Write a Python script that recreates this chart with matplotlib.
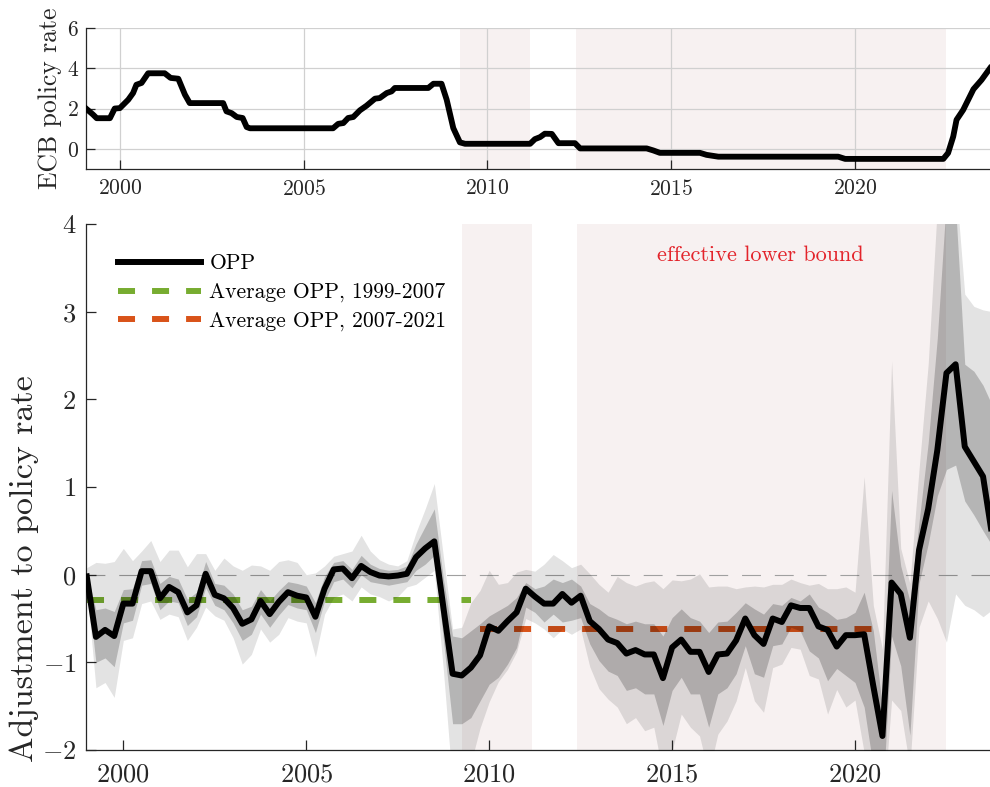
import numpy as np
import matplotlib.pyplot as plt

plt.rcParams['font.family'] = 'serif'
plt.rcParams['font.serif'] = ['cmr10']
plt.rcParams['mathtext.fontset'] = 'cm'
plt.rcParams['axes.formatter.use_mathtext'] = True
plt.rcParams['axes.unicode_minus'] = True

# ECB deposit facility rate (vertices of the monthly path)
ecb_dates = [1999.08, 1999.27, 1999.37, 1999.73, 1999.86, 2000.00, 2000.23, 2000.36, 2000.45,
             2000.59, 2000.77, 2001.22, 2001.38, 2001.59, 2001.77, 2001.90, 2002.81, 2002.90,
             2003.04, 2003.18, 2003.34, 2003.45, 2003.54, 2005.80, 2005.94, 2006.08, 2006.21,
             2006.35, 2006.53, 2006.71, 2006.94, 2007.07, 2007.26, 2007.39, 2007.48, 2008.39,
             2008.53, 2008.75, 2008.89, 2009.07, 2009.25, 2009.39, 2011.16, 2011.29, 2011.43,
             2011.56, 2011.75, 2011.93, 2012.38, 2012.52, 2014.33, 2014.51, 2014.69, 2015.78,
             2015.96, 2016.28, 2019.54, 2019.73, 2022.40, 2022.53, 2022.67, 2022.76, 2022.94,
             2023.22, 2023.44, 2023.67]
ecb_rate = [2.00, 1.70, 1.52, 1.52, 2.00, 2.02, 2.44, 2.77, 3.18,
            3.27, 3.75, 3.75, 3.52, 3.48, 2.69, 2.27, 2.27, 1.86,
            1.77, 1.58, 1.53, 1.08, 1.02, 1.02, 1.24, 1.28, 1.53,
            1.58, 1.91, 2.14, 2.49, 2.52, 2.77, 2.85, 3.02, 3.02,
            3.23, 3.23, 2.44, 1.03, 0.32, 0.25, 0.25, 0.48, 0.58,
            0.75, 0.74, 0.28, 0.28, 0.02, 0.02, -0.08, -0.20, -0.20,
            -0.30, -0.39, -0.39, -0.50, -0.50, -0.21, 0.61, 1.44, 1.93,
            2.96, 3.42, 4.00]

# quarterly OPP estimate, 1999Q1 - 2023Q4
quarters = 1999 + np.arange(100) / 4
opp = [-0.02, -0.71, -0.63, -0.70, -0.33, -0.33, 0.04, 0.04, -0.27, -0.14,
       -0.20, -0.43, -0.35, 0.01, -0.23, -0.27, -0.38, -0.56, -0.51, -0.30,
       -0.45, -0.31, -0.20, -0.24, -0.26, -0.48, -0.16, 0.06, 0.07, -0.04,
       0.10, 0.03, -0.01, -0.02, -0.01, 0.01, 0.20, 0.30, 0.38, -0.38,
       -1.13, -1.15, -1.06, -0.92, -0.59, -0.64, -0.53, -0.43, -0.16, -0.25,
       -0.33, -0.33, -0.22, -0.32, -0.24, -0.53, -0.62, -0.74, -0.78, -0.90,
       -0.86, -0.91, -0.91, -1.18, -0.83, -0.74, -0.88, -0.88, -1.11, -0.91,
       -0.90, -0.75, -0.50, -0.69, -0.79, -0.50, -0.54, -0.35, -0.38, -0.38,
       -0.59, -0.63, -0.82, -0.69, -0.69, -0.68, -1.27, -1.84, -0.09, -0.22,
       -0.72, 0.28, 0.75, 1.42, 2.30, 2.40, 1.46, 1.29, 1.12, 0.44]
# inner band
opp_lo68 = [-0.08, -1.00, -0.95, -1.05, -0.55, -0.52, -0.12, -0.10, -0.40, -0.30,
            -0.32, -0.58, -0.48, -0.15, -0.35, -0.40, -0.55, -0.75, -0.68, -0.45,
            -0.60, -0.46, -0.34, -0.38, -0.40, -0.66, -0.30, -0.08, -0.05, -0.15,
            0.00, -0.08, -0.10, -0.12, -0.10, -0.08, 0.05, 0.12, 0.22, -0.75,
            -1.70, -1.70, -1.63, -1.44, -1.25, -1.17, -1.02, -0.83, -0.37, -0.43,
            -0.54, -0.45, -0.54, -0.52, -0.49, -0.79, -0.98, -1.10, -1.15, -1.32,
            -1.29, -1.36, -1.36, -1.72, -1.32, -1.17, -1.36, -1.36, -1.74, -1.36,
            -1.29, -1.13, -0.81, -1.13, -1.17, -0.81, -0.79, -0.60, -0.64, -0.87,
            -0.95, -1.21, -1.07, -1.15, -1.23, -1.51, -2.20, -2.60, -0.70, -1.04,
            -1.83, -0.10, 0.35, 0.90, 1.20, 1.25, 0.84, 0.68, 0.50, 0.33]
opp_hi68 = [0.02, -0.40, -0.38, -0.42, -0.17, -0.16, 0.16, 0.17, -0.10, -0.02,
            -0.05, -0.28, -0.20, 0.15, -0.10, -0.12, -0.22, -0.40, -0.36, -0.17,
            -0.30, -0.18, -0.08, -0.10, -0.13, -0.32, -0.02, 0.14, 0.16, 0.06,
            0.22, 0.12, 0.07, 0.05, 0.06, 0.10, 0.35, 0.55, 0.75, -0.05,
            -0.70, -0.72, -0.64, -0.56, -0.47, -0.41, -0.35, -0.26, -0.09, -0.16,
            -0.13, -0.05, -0.09, -0.05, -0.13, -0.33, -0.39, -0.47, -0.51, -0.56,
            -0.53, -0.56, -0.56, -0.70, -0.49, -0.39, -0.49, -0.53, -0.66, -0.54,
            -0.53, -0.43, -0.32, -0.39, -0.45, -0.33, -0.35, -0.26, -0.30, -0.22,
            -0.37, -0.43, -0.51, -0.49, -0.43, -0.20, -0.64, -1.51, 0.96, 0.10,
            -0.30, 0.60, 1.50, 2.70, 4.30, 4.20, 2.40, 2.32, 2.16, 1.93]
# outer band
opp_lo90 = [-0.15, -1.29, -1.23, -1.40, -0.75, -0.72, -0.33, -0.30, -0.51, -0.45,
            -0.48, -0.75, -0.60, -0.37, -0.47, -0.52, -0.72, -1.02, -0.91, -0.62,
            -0.77, -0.68, -0.49, -0.53, -0.55, -0.94, -0.45, -0.26, -0.22, -0.30,
            -0.14, -0.22, -0.25, -0.30, -0.25, -0.14, -0.11, -0.03, 0.05, -1.10,
            -2.40, -2.40, -2.15, -1.75, -1.45, -1.22, -1.08, -0.88, -0.50, -0.55,
            -0.62, -0.72, -0.62, -0.68, -0.62, -1.05, -1.30, -1.42, -1.51, -1.70,
            -1.63, -1.78, -1.74, -2.27, -2.01, -1.59, -1.74, -1.84, -2.27, -1.82,
            -1.67, -1.44, -1.06, -1.44, -1.57, -1.06, -1.02, -0.83, -0.85, -1.15,
            -1.19, -1.59, -1.31, -1.51, -1.43, -2.03, -2.60, -2.80, -1.43, -1.55,
            -2.20, -0.60, -0.30, -0.50, -0.77, -0.22, -0.35, -0.40, -0.48, -0.40]
opp_hi90 = [0.08, 0.14, 0.13, 0.15, 0.30, 0.16, 0.27, 0.39, 0.15, 0.28,
            0.28, 0.09, 0.24, 0.24, 0.05, 0.19, 0.10, 0.05, 0.11, 0.10,
            0.05, 0.15, 0.17, 0.14, 0.00, 0.02, 0.10, 0.21, 0.24, 0.27,
            0.45, 0.27, 0.17, 0.12, 0.10, 0.16, 0.48, 0.75, 1.04, 0.20,
            -0.62, -0.60, -0.32, -0.18, 0.05, -0.11, -0.09, 0.03, 0.06, 0.04,
            0.12, 0.23, 0.16, 0.08, 0.12, 0.01, -0.11, -0.20, -0.02, -0.09,
            -0.13, -0.09, -0.07, -0.16, -0.06, -0.07, -0.05, 0.01, -0.14, -0.13,
            -0.13, -0.16, -0.14, -0.13, -0.14, -0.11, -0.11, -0.05, -0.09, -0.12,
            -0.10, -0.16, -0.16, -0.14, -0.20, 1.12, -0.35, -0.85, 2.44, 0.30,
            -0.10, 1.20, 2.40, 4.20, 4.60, 4.50, 3.20, 3.06, 3.02, 3.00]

# average OPP over the two sub-samples
avg_early = -0.29
avg_early_span = (1999.0, 2009.50)
avg_late = -0.62
avg_late_span = (2009.75, 2020.90)

# effective lower bound periods
elb_start = [2009.25, 2012.41]
elb_end = [2011.16, 2022.48]

dark = '#262626'
elb_color = '#f7f1f1'
green = '#77ac30'
orange = '#d95319'

fig = plt.figure(figsize=(9.9, 7.87), dpi=100)
ax_top = fig.add_axes([0.0869, 0.7853, 0.9131, 0.1792])
ax = fig.add_axes([0.0869, 0.0470, 0.9131, 0.6684])

# top panel: policy rate
for s, e in zip(elb_start, elb_end):
    ax_top.axvspan(s, e, color=elb_color, lw=0, zorder=0)
ax_top.plot(ecb_dates, ecb_rate, color='black', lw=4.2, zorder=3)
ax_top.set_xlim(1999.08, 2023.67)
ax_top.set_ylim(-1, 6)
ax_top.set_yticks([0, 2, 4, 6])
ax_top.set_xticks([2000, 2005, 2010, 2015, 2020])
ax_top.grid(True, color='#d0d0d0', lw=0.9)
ax_top.set_axisbelow(True)
ax_top.set_ylabel('ECB policy rate', fontsize=18.5, color=dark)
ax_top.yaxis.set_label_coords(-0.027, 0.5)
ax_top.tick_params(direction='in', length=6.5, width=0.9, colors=dark, labelsize=15.5)
ax_top.tick_params(axis='x', pad=7)
ax_top.tick_params(axis='y', pad=5)

# bottom panel: OPP
for s, e in zip(elb_start, elb_end):
    ax.axvspan(s, e, color=elb_color, lw=0, zorder=0)
ax.axhline(0, color='#a0a0a0', lw=0.8, ls=(0, (17, 12.5)), zorder=1)
ax.plot(avg_early_span, [avg_early, avg_early], color=green, lw=4.3,
        ls=(0, (2.85, 2.85)), label='Average OPP, 1999-2007', zorder=2)
ax.plot(avg_late_span, [avg_late, avg_late], color=orange, lw=4.3,
        ls=(0, (2.85, 2.85)), label='Average OPP, 2007-2021', zorder=2)
ax.fill_between(quarters, opp_lo90, opp_hi90, color='black', alpha=0.11, lw=0, zorder=3)
ax.fill_between(quarters, opp_lo68, opp_hi68, color='black', alpha=0.2, lw=0, zorder=3)
line_opp, = ax.plot(quarters, opp, color='black', lw=4.3, label='OPP', zorder=4)

ax.text(2017.4, 3.64, 'effective lower bound', color='#e3242b', fontsize=16,
        ha='center', va='center')

ax.set_xlim(1998.98, 2023.69)
ax.set_ylim(-2, 4)
ax.set_yticks([-2, -1, 0, 1, 2, 3, 4])
ax.set_xticks([2000, 2005, 2010, 2015, 2020])
ax.set_ylabel('Adjustment to policy rate', fontsize=24.5, color=dark)
ax.yaxis.set_label_coords(-0.052, 0.345)
ax.tick_params(direction='in', length=7, width=0.9, colors=dark, labelsize=19)
ax.tick_params(axis='x', pad=9)
ax.tick_params(axis='y', pad=7)

handles, labels = ax.get_legend_handles_labels()
order = [labels.index('OPP'), labels.index('Average OPP, 1999-2007'),
         labels.index('Average OPP, 2007-2021')]
ax.legend([handles[k] for k in order], [labels[k] for k in order],
          loc='upper left', bbox_to_anchor=(0.035, 0.943), frameon=False,
          fontsize=15.5, handlelength=3.86, handletextpad=0.4,
          labelspacing=0.42, borderpad=0, borderaxespad=0)

for a in (ax_top, ax):
    a.spines['top'].set_visible(False)
    a.spines['right'].set_visible(False)
    for side in ('left', 'bottom'):
        a.spines[side].set_color(dark)
        a.spines[side].set_linewidth(0.9)

fig.savefig('out.png', dpi=100)
